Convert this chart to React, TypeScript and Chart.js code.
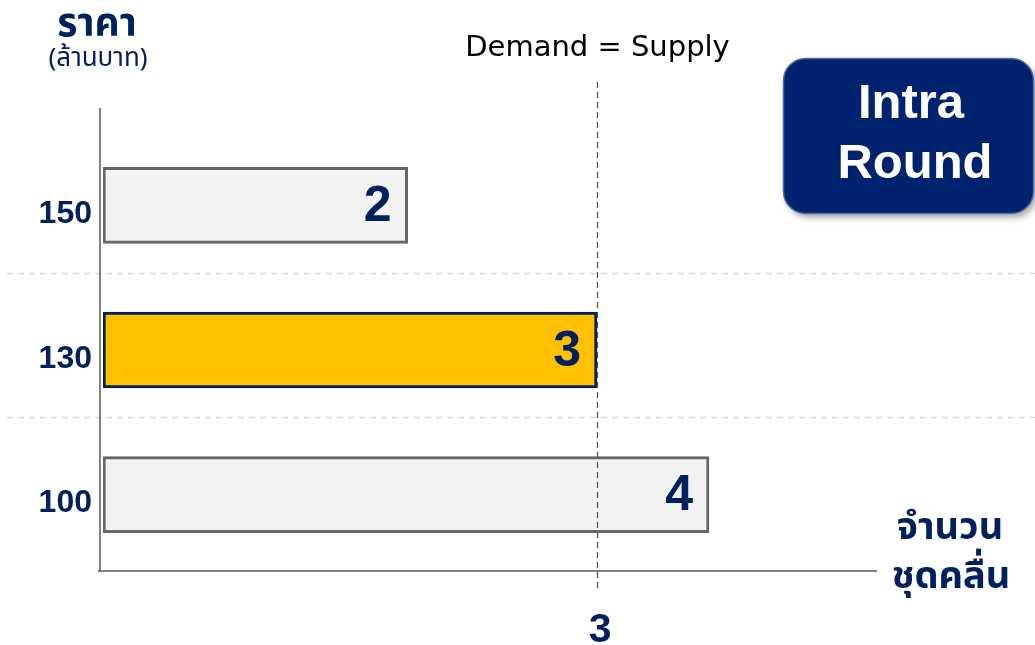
import React, { useEffect, useRef } from 'react';
import { Chart, registerables } from 'chart.js';

Chart.register(...registerables);

// ---- data ----
const priceLabels = ['150', '130', '100'];      // ราคา (ล้านบาท)
const bandCounts = [2, 3, 4];                   // numbers printed on the bars
const barLengths = [1.85, 3, 3.68];             // bar ends read against the "3" tick
const highlightIndex = 1;
const demandSupply = 3;
const xTickValues = [3];
const xMax = 4.7;

const NAVY = '#002060';
const NUM_FONT = '"Liberation Sans", Arial, sans-serif';
const THAI_FONT = '"Noto Sans Thai", "Noto Sans", "DejaVu Sans", sans-serif';

const overlay = {
  id: 'overlay',
  beforeDatasetsDraw(chart: any) {
    const { ctx, scales } = chart;
    const y = scales.y;
    ctx.save();
    ctx.strokeStyle = '#d9d9d9';
    ctx.lineWidth = 1.5;
    ctx.setLineDash([6, 5]);
    for (let i = 0; i < priceLabels.length - 1; i++) {
      const py = Math.round((y.getPixelForValue(i) + y.getPixelForValue(i + 1)) / 2 - 5) + 0.5;
      ctx.beginPath();
      ctx.moveTo(7, py);
      ctx.lineTo(chart.width, py);
      ctx.stroke();
    }
    ctx.restore();
  },
  afterDatasetsDraw(chart: any) {
    const { ctx, scales } = chart;
    const x = scales.x;
    const y = scales.y;
    ctx.save();

    // axis lines
    ctx.setLineDash([]);
    ctx.strokeStyle = '#595959';
    ctx.lineWidth = 1.5;
    const ax = x.left - 3;
    const ay = y.bottom + 4;
    ctx.beginPath();
    ctx.moveTo(ax, y.top - 25);
    ctx.lineTo(ax, ay);
    ctx.moveTo(ax - 2, ay);
    ctx.lineTo(x.right, ay);
    ctx.stroke();

    // demand = supply dashed line
    const dx = Math.round(x.getPixelForValue(demandSupply)) + 0.5;
    ctx.strokeStyle = '#555555';
    ctx.lineWidth = 1.3;
    ctx.setLineDash([6, 4]);
    ctx.beginPath();
    ctx.moveTo(dx, 82);
    ctx.lineTo(dx, ay + 19);
    ctx.stroke();
    ctx.setLineDash([]);

    // bar value labels
    const meta = chart.getDatasetMeta(0);
    ctx.fillStyle = NAVY;
    ctx.font = `bold 50px ${NUM_FONT}`;
    ctx.textAlign = 'right';
    ctx.textBaseline = 'middle';
    meta.data.forEach((el: any, i: number) => {
      ctx.fillText(String(bandCounts[i]), el.x - 16, el.y + 2);
    });

    // "Demand = Supply"
    ctx.fillStyle = '#000000';
    ctx.font = `29px ${'"DejaVu Sans", "Noto Sans", sans-serif'}`;
    ctx.textAlign = 'center';
    ctx.fillText('Demand = Supply', dx, 48);

    // y title
    ctx.fillStyle = NAVY;
    ctx.font = `bold 39px ${THAI_FONT}`;
    ctx.fillText('ราคา', 97, 28);
    ctx.font = `26px ${THAI_FONT}`;
    ctx.fillText('(ล้านบาท)', 98, 61);

    // x title
    ctx.font = `bold 38px ${THAI_FONT}`;
    ctx.fillText('จำนวน', 950, 531);
    ctx.fillText('ชุดคลื่น', 951, 580);

    // Intra Round box
    ctx.save();
    ctx.shadowColor = 'rgba(0,0,0,0.35)';
    ctx.shadowBlur = 6;
    ctx.shadowOffsetX = 3;
    ctx.shadowOffsetY = 4;
    ctx.fillStyle = '#00236f';
    ctx.beginPath();
    (ctx as any).roundRect(783.5, 58.5, 250, 155, 22);
    ctx.fill();
    ctx.restore();
    ctx.strokeStyle = '#4b6ea3';
    ctx.lineWidth = 1.5;
    ctx.beginPath();
    (ctx as any).roundRect(783.5, 58.5, 250, 155, 22);
    ctx.stroke();
    ctx.fillStyle = '#ffffff';
    ctx.font = `bold 49px ${NUM_FONT}`;
    ctx.fillText('Intra', 911, 104);
    ctx.fillText('Round', 915, 164);

    ctx.restore();
  },
};

export default function App() {
  const ref = useRef<HTMLCanvasElement>(null);

  useEffect(() => {
    if (!ref.current) return;
    const chart = new Chart(ref.current, {
      type: 'bar',
      data: {
        labels: priceLabels,
        datasets: [
          {
            data: barLengths,
            backgroundColor: priceLabels.map((_, i) => (i === highlightIndex ? '#FFC000' : '#F2F2F2')),
            borderColor: priceLabels.map((_, i) => (i === highlightIndex ? NAVY : '#666666')),
            borderWidth: 3,
            borderSkipped: false,
            barThickness: 76,
          },
        ],
      },
      options: {
        indexAxis: 'y',
        responsive: false,
        animation: false,
        layout: { padding: { left: 0, right: 158, top: 133, bottom: 0 } },
        plugins: { legend: { display: false }, tooltip: { enabled: false } },
        scales: {
          x: {
            type: 'linear',
            min: 0,
            max: xMax,
            grid: { display: false, drawTicks: false },
            border: { display: false },
            afterBuildTicks: (s: any) => {
              s.ticks = xTickValues.map((v) => ({ value: v }));
            },
            afterFit: (s: any) => {
              s.height = 78;
            },
            ticks: {
              color: NAVY,
              font: { family: NUM_FONT, size: 41, weight: 'bold' },
              padding: 39,
              labelOffset: 3,
              autoSkip: false,
              maxRotation: 0,
            },
          },
          y: {
            type: 'category',
            grid: { display: false, drawTicks: false },
            border: { display: false },
            afterFit: (s: any) => {
              s.width = 103;
            },
            ticks: {
              color: NAVY,
              font: { family: NUM_FONT, size: 32, weight: 'bold' },
              padding: 11,
              labelOffset: 9,
            },
          },
        },
      },
      plugins: [overlay],
    });
    return () => chart.destroy();
  }, []);

  return (
    <div style={{ position: 'absolute', left: 0, top: 0, width: 1035, height: 645, background: '#fff' }}>
      <canvas ref={ref} width={1035} height={645} style={{ display: 'block' }} />
    </div>
  );
}
